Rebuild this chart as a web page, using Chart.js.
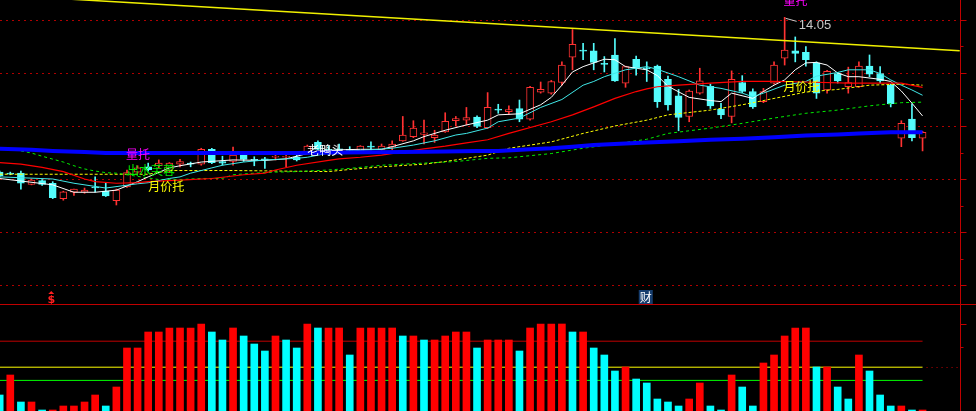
<!DOCTYPE html>
<html>
<head>
<meta charset="utf-8">
<script src="https://cdn.jsdelivr.net/npm/chart.js@4"></script>
<style>
  html, body { margin: 0; padding: 0; background: #000; overflow: hidden; }
  #wrap { position: relative; width: 976px; height: 411px; overflow: hidden; }
  #mainChart { position: absolute; left: 0; top: 0; }
  #lowerChart { position: absolute; left: 0; top: 304px; }
</style>
</head>
<body>
<div id="wrap">
  <canvas id="mainChart" width="976" height="304"></canvas>
  <canvas id="lowerChart" width="976" height="110"></canvas>
</div>
<script>
// daily candles, one entry per bar (index 0 = leftmost bar)
const opens = [11.13,11.11,11.11,10.90,10.97,10.92,10.63,10.75,10.75,10.85,10.77,10.59,10.85,11.13,11.23,11.25,11.16,11.28,11.30,11.28,
  11.56,11.33,11.33,11.45,11.37,11.38,11.41,11.41,11.42,11.49,11.69,11.56,11.57,11.56,11.52,11.62,11.55,11.60,11.72,11.80,
  11.84,11.78,11.89,12.10,12.11,12.17,11.97,12.31,12.27,12.33,12.13,12.64,12.62,12.82,13.30,13.43,13.42,13.18,13.34,12.81,
  13.26,13.09,13.13,12.88,12.57,12.18,12.62,12.75,12.32,12.18,12.82,12.65,12.46,12.81,13.28,13.42,13.39,13.19,12.68,12.99,
  12.74,12.74,13.13,12.99,12.77,11.77,12.13,11.77];
const highs = [11.15,11.13,11.15,11.00,10.99,10.95,10.77,10.81,10.83,11.04,10.93,10.81,11.17,11.25,11.30,11.36,11.31,11.37,11.32,11.58,
  11.58,11.43,11.60,11.49,11.42,11.41,11.49,11.49,11.45,11.64,11.72,11.62,11.66,11.61,11.63,11.70,11.66,11.72,12.18,12.10,
  12.11,11.92,12.25,12.18,12.35,12.19,12.63,12.41,12.38,12.49,12.75,12.83,12.86,13.21,13.82,13.56,13.56,13.31,13.65,13.13,
  13.32,13.21,13.15,12.94,12.69,12.68,13.09,12.79,12.43,13.04,12.95,12.70,12.71,13.21,14.05,13.68,13.50,13.21,13.05,13.01,
  13.11,13.21,13.34,13.12,12.79,12.10,12.42,11.90];
const lows = [11.04,11.08,10.81,10.89,10.88,10.63,10.60,10.69,10.73,10.75,10.67,10.51,10.84,11.11,11.15,11.21,11.12,11.23,11.23,11.26,
  11.29,11.26,11.26,11.33,11.25,11.20,11.36,11.23,11.34,11.47,11.55,11.45,11.52,11.52,11.50,11.55,11.54,11.55,11.71,11.78,
  11.66,11.69,11.88,12.00,12.02,11.97,11.95,12.24,12.22,12.08,12.11,12.62,12.60,12.77,13.06,13.25,13.06,13.02,12.84,12.73,
  12.96,12.84,12.35,12.30,11.91,12.08,12.60,12.33,12.14,12.06,12.63,12.33,12.44,12.79,13.15,13.21,13.13,12.52,12.62,12.81,
  12.62,12.73,12.93,12.81,12.36,11.61,11.72,11.53];
const closes = [11.06,11.09,10.92,10.98,10.90,10.65,10.76,10.81,10.79,10.83,10.68,10.79,11.12,11.21,11.17,11.30,11.30,11.33,11.28,11.56,
  11.31,11.30,11.45,11.37,11.35,11.36,11.43,11.43,11.36,11.62,11.56,11.54,11.55,11.54,11.62,11.60,11.62,11.66,11.83,11.96,
  11.87,11.83,12.09,12.14,12.16,11.99,12.35,12.30,12.31,12.13,12.73,12.69,12.84,13.15,13.54,13.41,13.20,13.16,12.85,13.12,
  13.10,13.08,12.46,12.40,12.16,12.66,12.85,12.38,12.21,12.88,12.65,12.36,12.65,13.15,13.43,13.37,13.25,12.62,13.03,12.85,
  12.82,13.13,12.98,12.85,12.42,12.05,11.78,11.88];

// moving averages, read as [bar index, price]
const ma5 = [[0,11.01],[5,10.89],[7,10.75],[9,10.75],[11,10.79],[13,10.95],[14,11.04],[16,11.21],[17,11.25],[19,11.32],[22,11.36],
  [25,11.35],[27,11.38],[30,11.53],[32,11.55],[34,11.56],[36,11.56],[37,11.61],[39,11.72],[40,11.80],[42,11.92],[44,12.02],
  [46,12.11],[47,12.21],[49,12.23],[51,12.40],[52,12.54],[53,12.77],[54,13.02],[55,13.12],[57,13.26],[58,13.25],[59,13.12],
  [61,13.06],[62,12.95],[63,12.75],[65,12.54],[67,12.48],[68,12.46],[69,12.62],[71,12.52],[72,12.65],[73,12.77],[74,12.87],
  [75,13.06],[76,13.19],[77,13.20],[78,13.15],[79,13.00],[80,12.93],[81,12.93],[83,12.88],[84,12.84],[85,12.66],[86,12.43],[87,12.19]];
const ma10 = [[0,11.04],[5,11.00],[7,10.92],[10,10.83],[13,10.91],[14,10.93],[16,11.01],[17,11.04],[18,11.11],[20,11.21],[21,11.26],
  [23,11.32],[25,11.36],[26,11.37],[28,11.39],[29,11.41],[31,11.49],[33,11.53],[35,11.55],[37,11.58],[39,11.64],[41,11.72],
  [43,11.83],[44,11.86],[46,11.96],[47,12.08],[49,12.15],[51,12.35],[53,12.50],[55,12.77],[56,12.84],[57,12.93],[59,13.06],
  [61,13.12],[62,13.07],[64,12.93],[66,12.77],[68,12.71],[70,12.62],[71,12.55],[72,12.62],[74,12.77],[76,12.84],[77,12.94],
  [79,13.01],[80,13.06],[82,13.06],[83,12.99],[84,12.87],[85,12.77],[86,12.68],[87,12.58]];
const ma20 = [[0,11.31],[2,11.28],[4,11.22],[6,11.14],[8,11.00],[9,10.95],[11,10.92],[13,10.93],[14,10.95],[16,10.97],[17,10.98],
  [20,11.01],[23,11.08],[25,11.11],[26,11.17],[28,11.26],[31,11.35],[32,11.38],[34,11.41],[36,11.45],[38,11.51],[40,11.57],
  [42,11.62],[44,11.68],[46,11.74],[48,11.86],[52,12.08],[54,12.21],[56,12.36],[58,12.52],[60,12.65],[61,12.70],[62,12.74],
  [64,12.77],[67,12.81],[70,12.84],[73,12.84],[76,12.83],[80,12.81],[85,12.81],[87,12.73]];
const ma30 = [[0,11.09],[14,11.09],[16,11.16],[22,11.16],[31,11.14],[33,11.18],[36,11.23],[40,11.28],[42,11.33],[44,11.39],
  [46,11.45],[48,11.58],[52,11.70],[55,11.86],[58,12.00],[61,12.11],[63,12.21],[67,12.30],[70,12.40],[73,12.52],[76,12.64],
  [79,12.69],[82,12.77],[85,12.79],[87,12.77]];
const ma60 = [[2,11.53],[3,11.49],[4,11.43],[6,11.32],[7,11.25],[8,11.19],[9,11.15],[10,11.12],[11,11.11],[13,11.05],[15,10.99],
  [17,10.99],[19,11.01],[21,11.01],[22,11.08],[24,11.11],[26,11.13],[28,11.14],[31,11.17],[33,11.20],[36,11.26],[40,11.30],
  [43,11.33],[46,11.39],[48,11.40],[52,11.48],[55,11.58],[58,11.66],[61,11.75],[63,11.86],[67,11.96],[70,12.05],[73,12.15],
  [76,12.24],[79,12.30],[82,12.38],[85,12.44],[87,12.45]];
const maLong = [[0,11.57],[3,11.55],[5,11.53],[8,11.51],[10,11.49],[28,11.49],[32,11.50],[38,11.51],[42,11.52],[45,11.53],[47,11.53],
  [50,11.56],[52,11.58],[54,11.61],[56,11.64],[59,11.67],[61,11.69],[64,11.71],[67,11.74],[70,11.76],[73,11.79],[76,11.82],
  [79,11.84],[81,11.86],[84,11.88],[87,11.88]];
// pressure trend line through the highs
const trendLine = [[0,14.47],[90.5,13.42]];

// lower indicator bars and its colour (true = red)
const lowerValues = [4.75,9.75,3,3,1,1,2,2,3,4.75,2,6.75,16.5,16.5,20.5,20.5,21.5,21.5,21.5,22.5,
  20.5,18.5,21.5,19.5,17.5,15.75,19.5,18.5,16.5,22.5,21.5,21.5,21.5,14.75,21.5,21.5,21.5,21.5,19.5,19.5,
  18.5,18.5,19.5,20.5,20.5,16.5,18.5,18.5,18.5,15.75,21.5,22.5,22.5,22.5,20.5,20.5,16.5,14.75,10.75,11.75,
  8.75,7.75,3.75,3,2,3.75,7.75,2,1,9.75,6.75,2,12.75,14.75,19.5,21.5,21.5,11.75,11.75,6.75,
  3.75,14.75,10.75,4.75,2,2,1,1];
const lowerUp = [0,1,0,1,0,1,1,1,1,1,0,1,1,1,1,1,1,1,1,1,0,0,1,0,0,0,1,0,0,1,0,1,1,0,1,1,1,1,0,1,
  0,1,1,1,1,0,1,1,1,0,1,1,1,1,0,1,0,0,0,1,0,0,0,0,0,1,1,0,0,1,0,0,1,1,1,1,1,0,1,0,
  0,1,0,0,0,1,0,1];
const lowerLevels = [18.2, 11.7, 8.4];
const lowerTicks = [22.5, 16.75];

// price levels of the dotted grid
const gridPrices = [9, 10, 11, 12, 13, 14];

// signal words written on the chart
const notes = [
  { text: '量托', i: 11.9, p: 11.53, color: '#ff00ff' },
  { text: '出水芙蓉', i: 12.0, p: 11.23, color: '#00ee00' },
  { text: '月价托', i: 14.0, p: 10.94, color: '#ffff00' },
  { text: '老鸭头', i: 29.0, p: 11.62, color: '#ffffff' },
  { text: '月价托', i: 73.9, p: 12.83, color: '#ffff00' },
  { text: '量托', i: 73.9, p: 14.45, color: '#ff00ff' }
];
const peakIndex = 74;

const X_MIN = 0.03, X_MAX = 90.53;
const UP = '#ff3232', DOWN = '#54fcfc';
const CJK = '12px "Noto Sans CJK SC"';

const pts = arr => arr.map(d => ({ x: d[0], y: d[1] }));
const isUp = i => closes[i] >= opens[i];

function lineSet(arr, color, width, dash, order) {
  return {
    type: 'line', data: pts(arr), borderColor: color, borderWidth: width,
    borderDash: dash, pointRadius: 0, tension: 0, fill: false, order: order
  };
}

// grid, right axis, notes
const mainDecor = {
  id: 'mainDecor',
  beforeDatasetsDraw(chart) {
    const { ctx, chartArea, scales: { y } } = chart;
    ctx.save();
    ctx.strokeStyle = '#b00000';
    ctx.lineWidth = 1;
    ctx.setLineDash([2, 4]);
    gridPrices.forEach(p => {
      const py = Math.round(y.getPixelForValue(p)) + 0.5;
      ctx.beginPath();
      ctx.moveTo(chartArea.left, py);
      ctx.lineTo(chartArea.right, py);
      ctx.stroke();
    });
    ctx.restore();
  },
  afterDatasetsDraw(chart) {
    const { ctx, chartArea, scales: { x, y } } = chart;
    ctx.save();
    // right axis
    const ax = chartArea.right + 0.5;
    ctx.strokeStyle = '#c00000';
    ctx.lineWidth = 1;
    ctx.beginPath();
    ctx.moveTo(ax, 0);
    ctx.lineTo(ax, chart.height);
    gridPrices.forEach(p => {
      const py = Math.round(y.getPixelForValue(p)) + 0.5;
      ctx.moveTo(ax, py); ctx.lineTo(ax + 6, py);
      const pm = Math.round(y.getPixelForValue(p + 0.5)) + 0.5;
      ctx.moveTo(ax, pm); ctx.lineTo(ax + 3, pm);
    });
    ctx.stroke();

    // signal words
    ctx.font = CJK;
    ctx.textBaseline = 'top';
    ctx.textAlign = 'left';
    notes.forEach(n => {
      ctx.fillStyle = n.color;
      ctx.fillText(n.text, x.getPixelForValue(n.i), y.getPixelForValue(n.p) - 2);
    });

    // high price marker
    const hx = x.getPixelForValue(peakIndex);
    const hy = y.getPixelForValue(highs[peakIndex]);
    ctx.strokeStyle = '#c8c8c8';
    ctx.beginPath();
    ctx.moveTo(hx + 1, hy + 1);
    ctx.lineTo(hx + 12, hy + 4);
    ctx.stroke();
    ctx.fillStyle = '#c8c8c8';
    ctx.font = '13px "Liberation Sans"';
    ctx.textBaseline = 'alphabetic';
    ctx.fillText(highs[peakIndex].toFixed(2), hx + 14, hy + 12);

    // small markers on the bottom edge
    const sx = x.getPixelForValue(5) - 1.5;
    ctx.fillStyle = '#ff2020';
    ctx.beginPath();
    ctx.moveTo(sx - 3, chartArea.bottom - 10);
    ctx.lineTo(sx + 3, chartArea.bottom - 10);
    ctx.lineTo(sx, chartArea.bottom - 13);
    ctx.fill();
    ctx.font = 'bold 11px "DejaVu Sans"';
    ctx.textAlign = 'center';
    ctx.fillText('$', sx, chartArea.bottom - 1);

    const cx = x.getPixelForValue(61);
    ctx.fillStyle = '#163d6e';
    ctx.fillRect(cx - 8, chartArea.bottom - 14, 14, 14);
    ctx.fillStyle = '#ffffff';
    ctx.font = CJK;
    ctx.textBaseline = 'middle';
    ctx.fillText('财', cx - 1, chartArea.bottom - 7);
    ctx.restore();
  }
};

const candleIdx = opens.map((o, i) => i);

const mainChart = new Chart(document.getElementById('mainChart'), {
  type: 'bar',
  data: {
    datasets: [
      {
        data: candleIdx.map(i => ({ x: i, y: [lows[i], highs[i]] })),
        backgroundColor: candleIdx.map(i => isUp(i) ? UP : DOWN),
        barThickness: 1, grouped: false, order: 5
      },
      {
        data: candleIdx.map(i => ({ x: i, y: [opens[i], closes[i]] })),
        backgroundColor: candleIdx.map(i => isUp(i) ? '#000000' : DOWN),
        borderColor: candleIdx.map(i => isUp(i) ? UP : DOWN),
        borderWidth: 1, borderSkipped: false, minBarLength: 1,
        barThickness: 7, grouped: false, order: 4
      },
      lineSet(ma60, '#00ee00', 1, [3, 3], 3),
      lineSet(ma30, '#ffff00', 1, [3, 2], 3),
      lineSet(ma20, '#ff0000', 1.2, [], 2),
      lineSet(ma10, '#40e8e8', 1, [], 2),
      lineSet(ma5, '#ffffff', 1, [], 2),
      lineSet(maLong, '#0000ff', 4, [], 1),
      lineSet(trendLine, '#f0f000', 1.5, [], 1)
    ]
  },
  options: {
    responsive: false,
    animation: false,
    events: [],
    layout: { padding: { left: 0, right: 16, top: 0, bottom: 0 } },
    plugins: { legend: { display: false }, tooltip: { enabled: false } },
    scales: {
      x: { type: 'linear', min: X_MIN, max: X_MAX, offset: false, display: false },
      y: { type: 'linear', min: 8.642, max: 14.377, display: false }
    }
  },
  plugins: [mainDecor]
});

// separator, axis and ticks of the lower panel
const lowerDecor = {
  id: 'lowerDecor',
  afterDatasetsDraw(chart) {
    const { ctx, chartArea, scales: { x, y } } = chart;
    ctx.save();
    ctx.strokeStyle = '#c00000';
    ctx.lineWidth = 1;
    ctx.beginPath();
    ctx.moveTo(0, 0.5);
    ctx.lineTo(chart.width, 0.5);
    const ax = chartArea.right + 0.5;
    ctx.moveTo(ax, 0);
    ctx.lineTo(ax, chart.height);
    lowerTicks.forEach((t, k) => {
      const ty = Math.round(y.getPixelForValue(t)) + 0.5;
      ctx.moveTo(ax, ty);
      ctx.lineTo(ax + (k === 0 ? 6 : 3), ty);
    });
    ctx.stroke();
    // dotted continuation of the middle level
    const ly = Math.round(y.getPixelForValue(lowerLevels[1])) + 0.5;
    ctx.setLineDash([1, 4]);
    ctx.beginPath();
    ctx.moveTo(x.getPixelForValue(lowerValues.length - 1) + 4, ly);
    ctx.lineTo(chartArea.right, ly);
    ctx.stroke();
    ctx.restore();
  }
};

const lastIdx = lowerValues.length - 1;
const levelColors = ['#c00000', '#ffff00', '#00ff00'];

const lowerChart = new Chart(document.getElementById('lowerChart'), {
  type: 'bar',
  data: {
    datasets: [
      ...lowerLevels.map((v, k) => ({
        type: 'line', data: [{ x: 0, y: v }, { x: lastIdx, y: v }],
        borderColor: levelColors[k], borderWidth: 1, pointRadius: 0, order: 3
      })),
      {
        data: lowerValues.map((v, i) => ({ x: i, y: v })),
        backgroundColor: lowerUp.map(u => u ? '#ff0000' : '#00ffff'),
        barThickness: 7, grouped: false, order: 1
      }
    ]
  },
  options: {
    responsive: false,
    animation: false,
    events: [],
    layout: { padding: { left: 0, right: 16, top: 0, bottom: 0 } },
    plugins: { legend: { display: false }, tooltip: { enabled: false } },
    scales: {
      x: { type: 'linear', min: X_MIN, max: X_MAX, offset: false, display: false },
      y: { type: 'linear', min: 0, max: 27.5, display: false }
    }
  },
  plugins: [lowerDecor]
});
</script>
</body>
</html>
